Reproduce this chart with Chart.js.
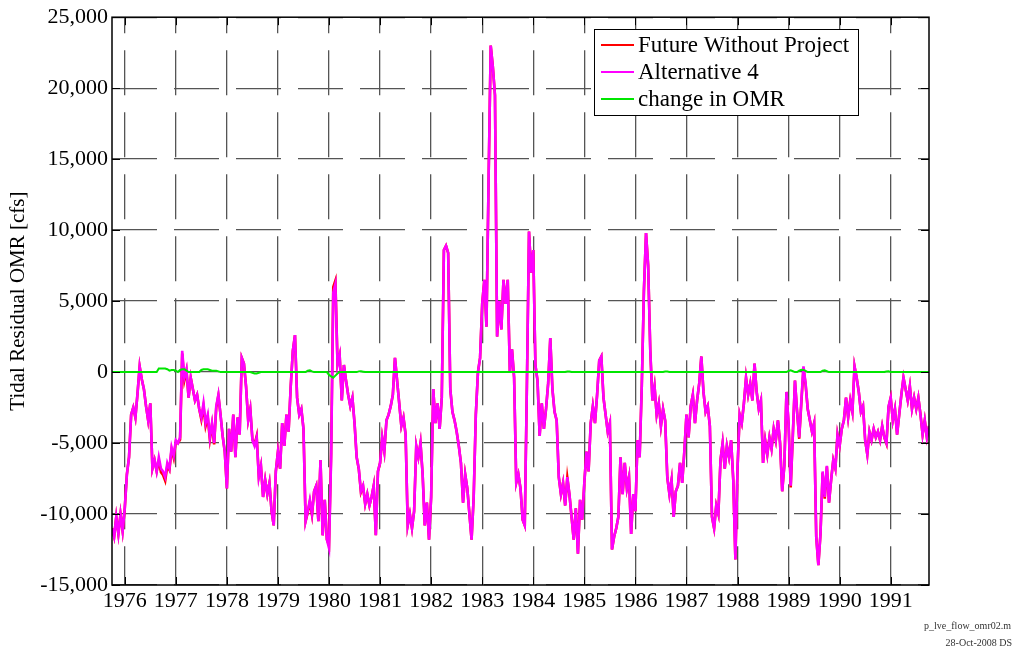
<!DOCTYPE html>
<html>
<head>
<meta charset="utf-8">
<script src="https://cdn.jsdelivr.net/npm/chart.js@4.4.0/dist/chart.umd.min.js"></script>
<style>
  html, body { margin: 0; padding: 0; background: #fff; }
  #wrap { width: 1016px; height: 652px; }
</style>
</head>
<body>
<div id="wrap"><canvas id="omrChart" width="1016" height="652"></canvas></div>
<script>
// water years Oct 1975 - Sep 1991, one value every half month
const startYear = 1975.75;
const stepYears = 1 / 24;
const yearTicks = [1976, 1977, 1978, 1979, 1980, 1981, 1982, 1983, 1984, 1985, 1986, 1987, 1988, 1989, 1990, 1991];
const yTicks = [-15000, -10000, -5000, 0, 5000, 10000, 15000, 20000, 25000];
const seriesLabels = ['Future Without Project', 'Alternative 4', 'change in OMR'];
const seriesColors = ['#ff0000', '#ff00ff', '#00e600'];
const footerLines = ['p_lve_flow_omr02.m', '28-Oct-2008 DS'];

// Alternative 4 tidal residual OMR [cfs]
const alt4 = [
  -11000,-11600,-10200,-11400,-10000,-11200,-9600,-7200,-6000,-3000,-2500,-3200,-1500,400,-500,-1200,-2400,-3400,-2200,-6800,-6200,-7000,-6000,-6800,
  -7000,-7400,-6400,-6800,-5300,-5900,-4800,-5000,-4600,1500,-400,200,-1800,-400,-1200,-2000,-1600,-2600,-3200,-2200,-3600,-3000,-4600,-3600,
  -5000,-2400,-1600,-3000,-4500,-5600,-8200,-4000,-5600,-3000,-6000,-3200,-4400,1000,600,-1000,-3400,-2600,-4800,-5200,-4600,-7400,-6600,-8800,
  -7600,-8600,-7800,-9800,-10800,-7000,-5600,-6800,-3600,-5200,-3000,-4200,-1000,1500,2600,-1800,-3000,-2600,-4000,-10500,-9800,-9000,-10000,-8400,
  -8000,-10500,-6200,-11500,-9000,-11800,-12400,-6000,5600,6200,500,1200,-2000,500,-600,-1600,-2400,-1800,-3600,-6000,-6800,-8400,-8000,-9300,
  -8600,-9400,-8800,-8000,-11500,-7000,-6400,-4600,-5600,-3400,-3000,-2400,-1600,1000,-600,-2200,-3800,-3200,-4400,-10800,-10000,-11000,-9800,-5200,
  -6000,-5000,-7200,-10800,-9200,-11800,-8800,-1200,-3600,-2200,-4000,-1800,8600,8900,8400,-1200,-2800,-3400,-4200,-5200,-6400,-9200,-7200,-8200,
  -10000,-11800,-8800,-3000,0,1000,4800,6500,3200,13500,23000,21500,19500,2500,5000,3000,6500,4800,6500,0,1600,-400,-7800,-7200,
  -8200,-10400,-10800,-1000,9900,7000,8600,500,-600,-4500,-2200,-4000,-2600,-800,2400,-1200,-2800,-3400,-7400,-8600,-7800,-9400,-7400,-8600,
  -10200,-11800,-9600,-12800,-9000,-10400,-7800,-5600,-7000,-3600,-2400,-3600,-1600,800,1100,-1800,-3000,-4200,-3600,-12500,-11600,-11000,-10200,-6000,
  -8600,-6400,-8200,-7400,-11400,-8600,-9800,-4800,-6000,-1000,5700,9800,7500,1500,-2000,-1000,-3000,-2200,-3800,-2600,-3400,-7400,-8600,-7600,
  -10200,-8400,-8000,-6400,-7800,-5600,-3000,-4600,-2400,-1600,-3600,-2000,-800,1100,-1400,-2800,-2400,-3800,-10200,-11000,-9400,-10000,-6200,-5000,
  -6800,-5200,-6000,-4800,-7600,-13200,-6800,-3000,-3600,-2200,-400,-1600,-800,-2000,600,-1400,-2600,-2000,-6400,-4800,-5800,-4600,-5400,-4000,
  -4800,-3400,-5000,-8400,-6600,-1400,-3600,-8000,-4400,-600,-2800,-4600,-2000,400,-800,-2600,-3400,-4200,-3600,-11600,-13600,-11400,-7000,-8800,
  -6600,-9200,-7600,-6200,-6800,-4400,-5200,-4000,-3400,-1800,-3200,-2000,-2800,400,-400,-1400,-2800,-2400,-4800,-5800,-4200,-4800,-4000,-4600,
  -4200,-4800,-3800,-4600,-5000,-2400,-1800,-3400,-2600,-4400,-3000,-1600,-400,-1200,-2000,-1000,-2600,-1800,-2600,-1800,-3000,-4400,-3400,-4600,
  -3800
];

// change in OMR = Alternative 4 - Future Without Project
const changeOmr = [
  0,0,0,0,0,0,0,0,0,0,0,0,0,0,0,0,0,0,0,0,0,0,250,250,
  250,250,200,100,150,150,100,0,150,200,200,100,0,0,0,0,0,0,150,200,200,200,150,100,
  100,100,50,0,0,0,0,0,0,0,0,0,0,0,0,0,0,0,-50,-100,-100,-50,0,0,
  0,0,0,0,0,0,0,0,0,0,0,0,0,0,0,0,0,0,0,0,100,120,50,0,
  0,0,0,0,0,0,-200,-300,-400,-250,-100,0,0,0,0,0,0,0,0,0,50,60,30,0,
  0,0,0,0,0,0,0,0,0,0,0,0,0,0,0,0,0,0,0,0,0,0,0,0,
  0,0,0,0,0,0,0,0,0,0,0,0,0,0,0,0,0,0,0,0,0,0,0,0,
  0,0,0,0,0,0,0,0,0,0,0,0,0,0,0,0,0,0,0,0,0,0,0,0,
  0,0,0,0,0,0,0,0,0,0,0,0,0,0,0,0,0,0,0,0,0,0,40,40,
  0,0,0,0,0,0,0,0,0,0,0,0,0,0,0,0,0,0,0,0,0,0,0,0,
  0,0,0,0,0,0,0,0,0,0,0,0,0,0,0,0,0,0,0,0,40,40,0,0,
  0,0,0,0,0,0,0,0,0,0,0,0,0,0,0,0,0,0,0,0,0,0,0,0,
  0,0,0,0,0,0,0,0,0,0,0,0,0,0,0,0,0,0,0,0,0,0,0,0,
  0,0,0,0,0,0,80,120,60,0,0,100,160,150,80,0,0,0,0,0,0,0,100,120,
  60,0,0,0,0,0,0,0,0,0,0,0,0,0,0,0,0,0,0,0,0,0,0,0,
  0,0,0,0,40,50,0,0,0,0,0,0,0,0,0,0,0,0,0,0,0,0,0,0,
  0
];

const futureNoProject = alt4.map((v, i) => v - changeOmr[i]);

const toPoints = arr => arr.map((v, i) => ({ x: startYear + i * stepYears, y: v }));

const serif = "'Liberation Serif', 'Times New Roman', serif";

// MATLAB-ish box, inward ticks, legend box and footer
const matlabFrame = {
  id: 'matlabFrame',
  afterDatasetsDraw(chart) {
    const { ctx, chartArea: a, scales } = chart;
    ctx.save();
    ctx.strokeStyle = '#000';
    ctx.lineWidth = 1.5;
    ctx.strokeRect(a.left, a.top, a.right - a.left, a.bottom - a.top);
    ctx.lineWidth = 1;
    ctx.beginPath();
    yearTicks.forEach(t => {
      const x = Math.round(scales.x.getPixelForValue(t)) + 0.5;
      ctx.moveTo(x, a.bottom); ctx.lineTo(x, a.bottom - 8);
      ctx.moveTo(x, a.top); ctx.lineTo(x, a.top + 8);
    });
    yTicks.forEach(t => {
      const y = Math.round(scales.y.getPixelForValue(t)) + 0.5;
      ctx.moveTo(a.left, y); ctx.lineTo(a.left + 8, y);
      ctx.moveTo(a.right, y); ctx.lineTo(a.right - 8, y);
    });
    ctx.stroke();

    // legend
    const lx = 594, ly = 29, lw = 264, lh = 86;
    ctx.fillStyle = '#fff';
    ctx.fillRect(lx, ly, lw, lh);
    ctx.strokeStyle = '#000';
    ctx.lineWidth = 1;
    ctx.strokeRect(lx + 0.5, ly + 0.5, lw, lh);
    ctx.font = '23px ' + serif;
    ctx.textBaseline = 'middle';
    ctx.textAlign = 'left';
    seriesLabels.forEach((lab, k) => {
      const y = ly + 16 + k * 27;
      ctx.strokeStyle = seriesColors[k];
      ctx.lineWidth = 2;
      ctx.beginPath();
      ctx.moveTo(lx + 7, y); ctx.lineTo(lx + 40, y);
      ctx.stroke();
      ctx.fillStyle = '#000';
      ctx.fillText(lab, lx + 44, y + 1);
    });

    // footer
    ctx.font = '10px ' + serif;
    ctx.fillStyle = '#333';
    ctx.textAlign = 'right';
    ctx.fillText(footerLines[0], 1011, 626);
    ctx.fillText(footerLines[1], 1012, 643);
    ctx.restore();
  }
};

new Chart(document.getElementById('omrChart').getContext('2d'), {
  type: 'line',
  data: {
    datasets: [
      { label: seriesLabels[0], data: toPoints(futureNoProject), borderColor: seriesColors[0], borderWidth: 2.6, order: 3 },
      { label: seriesLabels[1], data: toPoints(alt4), borderColor: seriesColors[1], borderWidth: 2.6, order: 2 },
      { label: seriesLabels[2], data: toPoints(changeOmr), borderColor: seriesColors[2], borderWidth: 2, order: 1 }
    ]
  },
  options: {
    responsive: false,
    animation: false,
    events: [],
    elements: { point: { radius: 0 }, line: { tension: 0, fill: false } },
    layout: { padding: { left: 0, right: 87, top: 15, bottom: 0 } },
    plugins: { legend: { display: false }, tooltip: { enabled: false } },
    scales: {
      x: {
        type: 'linear',
        min: startYear,
        max: startYear + 16,
        afterBuildTicks: s => { s.ticks = yearTicks.map(v => ({ value: v })); },
        afterFit: s => { s.height = 67; },
        ticks: { color: '#000', font: { family: serif, size: 22 }, padding: 3, maxRotation: 0, autoSkip: false,
                 callback: v => String(v) },
        grid: { color: '#555', lineWidth: 1.3, drawTicks: false },
        border: { display: false, dash: [45, 17], dashOffset: 29 }
      },
      y: {
        min: -15000,
        max: 25000,
        afterBuildTicks: s => { s.ticks = yTicks.map(v => ({ value: v })); },
        afterFit: s => { s.width = 112; },
        ticks: { color: '#000', font: { family: serif, size: 22 }, padding: 4,
                 callback: v => v.toLocaleString('en-US') },
        grid: { color: '#555', lineWidth: 1.3, drawTicks: false },
        border: { display: false, dash: [45, 17], dashOffset: 0 },
        title: { display: true, text: 'Tidal Residual OMR [cfs]', color: '#000',
                 font: { family: serif, size: 21 }, padding: { top: 6, bottom: 0 } }
      }
    }
  },
  plugins: [matlabFrame]
});
</script>
</body>
</html>
